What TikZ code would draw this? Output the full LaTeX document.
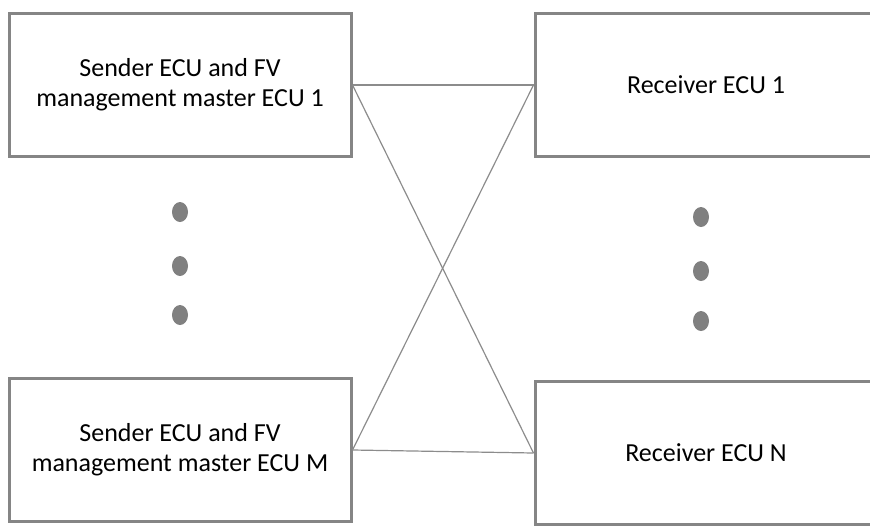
\documentclass[tikz,border=0pt]{standalone}
\usepackage{fontspec}
\setmainfont{Carlito}
\begin{document}
\begin{tikzpicture}[x=1pt,y=-1pt,
  ecubox/.style={draw=boxgray, line width=3pt, minimum width=342pt,
    minimum height=143pt, align=center, font=\fontsize{26}{30}\selectfont,
    inner sep=0pt},
  link/.style={draw=linkgray, line width=1.2pt},
  dotmark/.style={fill=dotgray}]
\definecolor{boxgray}{HTML}{858585}
\definecolor{linkgray}{HTML}{8C8C8C}
\definecolor{dotgray}{HTML}{808080}
\useasboundingbox (0,0) rectangle (870,528);

% sender ECUs on the left
\node[ecubox] (s1) at (180,85) {Sender ECU and FV\\management master ECU 1};
\node[ecubox] (sm) at (180,450) {Sender ECU and FV\\management master ECU M};

% receiver ECUs on the right
\node[ecubox] (r1) at (706,85) {Receiver ECU 1};
\node[ecubox] (rn) at (706,453) {Receiver ECU N};

% every sender is linked to every receiver
\draw[link] (s1.east) -- (r1.west);
\draw[link] (s1.east) -- (rn.west);
\draw[link] (sm.east) -- (r1.west);
\draw[link] (sm.east) -- (rn.west);

% ellipsis dots between the boxes
\foreach \y in {212,266,315} \fill[dotmark] (180,\y) ellipse [x radius=8, y radius=10];
\foreach \y in {217,271,321} \fill[dotmark] (701,\y) ellipse [x radius=8, y radius=10];
\end{tikzpicture}
\end{document}
